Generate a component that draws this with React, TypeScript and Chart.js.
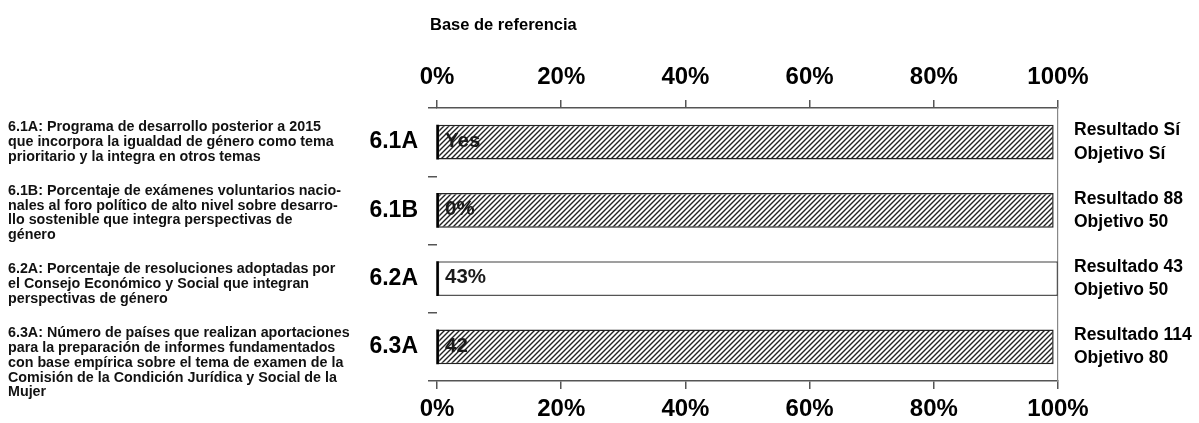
import React, { useEffect, useRef } from "react";
import { Chart, registerables } from "chart.js";

Chart.register(...registerables);

const chartTitle = "Base de referencia";
const categories = ["6.1A", "6.1B", "6.2A", "6.3A"];
const baselineValues = [99.3, 99.3, 100, 99.3];
const barLabels = ["Yes", "0%", "43%", "42"];
const hatchedBars = [true, true, false, true];
const resultLabels = ["Resultado Sí", "Resultado 88", "Resultado 43", "Resultado 114"];
const targetLabels = ["Objetivo Sí", "Objetivo 50", "Objetivo 50", "Objetivo 80"];
const xTickValues = [0, 20, 40, 60, 80, 100];
const descriptions: string[][] = [
  [
    "6.1A: Programa de desarrollo posterior a 2015",
    "que incorpora la igualdad de género como tema",
    "prioritario y la integra en otros temas",
  ],
  [
    "6.1B: Porcentaje de exámenes voluntarios nacio-",
    "nales al foro político de alto nivel sobre desarro-",
    "llo sostenible que integra perspectivas de",
    "género",
  ],
  [
    "6.2A: Porcentaje de resoluciones adoptadas por",
    "el Consejo Económico y Social que integran",
    "perspectivas de género",
  ],
  [
    "6.3A: Número de países que realizan aportaciones",
    "para la preparación de informes fundamentados",
    "con base empírica sobre el tema de examen de la",
    "Comisión de la Condición Jurídica y Social de la",
    "Mujer",
  ],
];

const FONT = "'Liberation Sans', Arial, sans-serif";

function makeHatch(): CanvasPattern | string {
  const c = document.createElement("canvas");
  const s = 5;
  c.width = s;
  c.height = s;
  const g = c.getContext("2d");
  if (!g) return "#888";
  g.fillStyle = "#fff";
  g.fillRect(0, 0, s, s);
  g.strokeStyle = "#222";
  g.lineWidth = 1.4;
  g.beginPath();
  g.moveTo(0, s);
  g.lineTo(s, 0);
  g.moveTo(-1, 1);
  g.lineTo(1, -1);
  g.moveTo(s - 1, s + 1);
  g.lineTo(s + 1, s - 1);
  g.stroke();
  const p = g.createPattern(c, "repeat");
  return p || "#888";
}

const textPlugin = {
  id: "textPlugin",
  afterDatasetsDraw(chart: any) {
    const ctx = chart.ctx;
    const meta = chart.getDatasetMeta(0);
    const x0 = chart.scales.x.getPixelForValue(0);
    ctx.save();
    meta.data.forEach((bar: any, i: number) => {
      const h = bar.height;
      ctx.strokeStyle = "#000";
      ctx.lineWidth = 2.5;
      ctx.beginPath();
      ctx.moveTo(x0 + 0.5, bar.y - h / 2);
      ctx.lineTo(x0 + 0.5, bar.y + h / 2);
      ctx.stroke();
      ctx.fillStyle = "#1a1a1a";
      ctx.font = `bold 20.5px ${FONT}`;
      ctx.textAlign = "left";
      ctx.textBaseline = "middle";
      ctx.fillText(barLabels[i], x0 + 8, bar.y - 1);
    });
    ctx.restore();
  },
  afterDraw(chart: any) {
    const ctx = chart.ctx;
    ctx.save();
    ctx.fillStyle = "#000";
    ctx.textAlign = "left";
    ctx.textBaseline = "middle";
    ctx.font = `bold 16.5px ${FONT}`;
    ctx.fillText(chartTitle, 430, 25);
    ctx.font = `bold 14.3px ${FONT}`;
    ctx.fillStyle = "#111";
    let y = 127;
    descriptions.forEach((block) => {
      block.forEach((line) => {
        ctx.fillText(line, 8, y);
        y += 14.8;
      });
      y += 19.4;
    });
    ctx.restore();
  },
};

export default function App() {
  const ref = useRef<HTMLCanvasElement | null>(null);
  useEffect(() => {
    if (!ref.current) return;
    const hatch = makeHatch();
    const axisColor = "#555";
    const tickFont = { family: FONT, size: 24, weight: "bold" as const };
    const chart = new Chart(ref.current, {
      type: "bar",
      data: {
        labels: categories,
        datasets: [
          {
            label: chartTitle,
            data: baselineValues,
            xAxisID: "x",
            yAxisID: "y",
            backgroundColor: hatchedBars.map((h) => (h ? hatch : "#fff")) as any,
            borderColor: hatchedBars.map((h) => (h ? "#222" : "#555")),
            borderWidth: 1.5,
            borderSkipped: false,
            barPercentage: 0.51,
            categoryPercentage: 1,
          },
        ],
      },
      plugins: [textPlugin],
      options: {
        animation: false,
        responsive: true,
        maintainAspectRatio: false,
        indexAxis: "y",
        layout: { padding: 0 },
        plugins: {
          legend: { display: false },
          tooltip: { enabled: false },
          title: { display: false },
        },
        scales: {
          x: {
            type: "linear",
            position: "top",
            min: 0,
            max: 100,
            afterBuildTicks(scale: any) {
              scale.ticks = xTickValues.map((v) => ({ value: v }));
            },
            afterFit(scale: any) {
              scale.height = 108;
            },
            ticks: {
              callback: (v: any) => `${v}%`,
              color: "#000",
              font: tickFont,
              padding: 8,
              maxRotation: 0,
            },
            grid: { drawOnChartArea: false, drawTicks: true, tickLength: 8, color: axisColor, lineWidth: 1.5 },
            border: { display: true, color: axisColor, width: 1.5 },
          },
          x2: {
            type: "linear",
            position: "bottom",
            min: 0,
            max: 100,
            afterBuildTicks(scale: any) {
              scale.ticks = xTickValues.map((v) => ({ value: v }));
            },
            afterFit(scale: any) {
              scale.height = 42;
            },
            ticks: {
              callback: (v: any) => `${v}%`,
              color: "#000",
              font: tickFont,
              padding: 6,
              maxRotation: 0,
            },
            grid: { drawOnChartArea: false, drawTicks: true, tickLength: 8, color: axisColor, lineWidth: 1.5 },
            border: { display: true, color: axisColor, width: 1.5 },
          },
          y: {
            type: "category",
            position: "left",
            offset: true,
            afterFit(scale: any) {
              scale.width = 437;
            },
            ticks: {
              color: "#000",
              font: { family: FONT, size: 23, weight: "bold" },
              padding: 10,
            },
            grid: { offset: true, drawOnChartArea: false, drawTicks: true, tickLength: 9, color: axisColor, lineWidth: 1.5 },
            border: { display: false },
          },
          y2: {
            type: "category",
            position: "right",
            offset: true,
            labels: resultLabels.map((r, i) => [r, targetLabels[i]]) as any,
            afterFit(scale: any) {
              scale.width = 141;
            },
            ticks: {
              color: "#000",
              font: { family: FONT, size: 17.5, weight: "bold", lineHeight: 1.33 },
              padding: 16,
            },
            grid: { offset: true, drawOnChartArea: false, drawTicks: false },
            border: { display: true, color: "#888", width: 1.2 },
          },
        },
      } as any,
    });
    return () => chart.destroy();
  }, []);
  return (
    <div style={{ position: "fixed", left: 0, top: 0, width: 1199, height: 423, background: "#fff" }}>
      <canvas ref={ref} />
    </div>
  );
}
